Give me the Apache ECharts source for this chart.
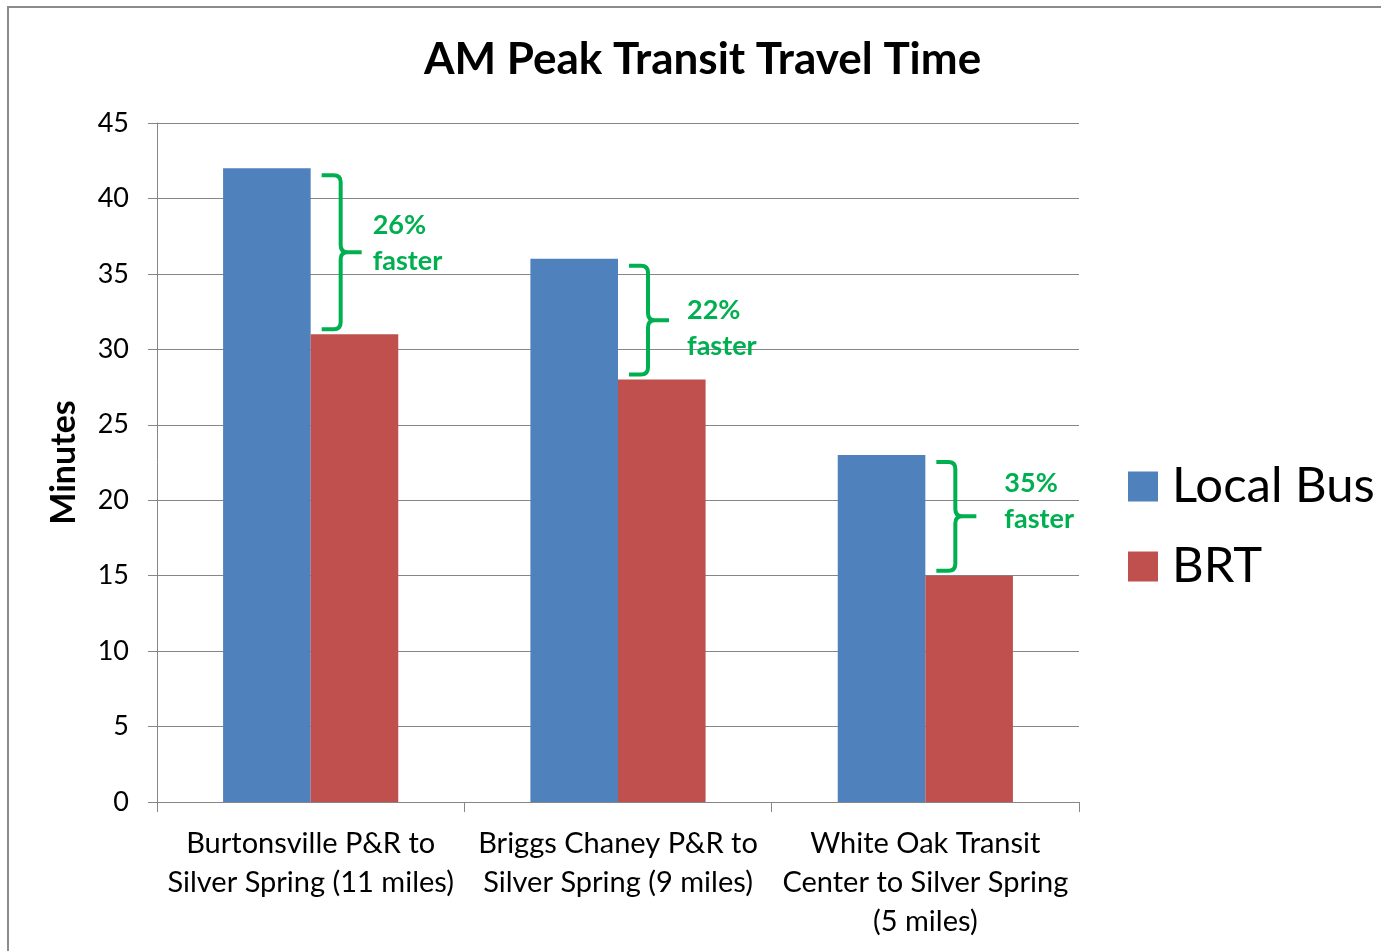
<!DOCTYPE html>
<html>
<head>
<meta charset="utf-8">
<script src="https://cdn.jsdelivr.net/npm/echarts@6/dist/echarts.min.js"></script>
<style>
html,body{margin:0;padding:0;background:#fff;}
#chart{width:1381px;height:951px;}
</style>
</head>
<body>
<div id="chart"></div>
<script>
const categories = [
  'Burtonsville P&R to\nSilver Spring (11 miles)',
  'Briggs Chaney P&R to\nSilver Spring (9 miles)',
  'White Oak Transit\nCenter to Silver Spring\n(5 miles)'
];
const localBus = [42, 36, 23];
const brt = [31, 28, 15];
const fasterLabels = ['26%', '22%', '35%'];
const yTicks = [0, 5, 10, 15, 20, 25, 30, 35, 40, 45];

// annotation label nudges (style only)
const labelNudge = [[0, -3], [7, 14], [17, -9]];

const FONT = 'Lato, "Open Sans", sans-serif';
const GREEN = '#00B050';
const AXIS = '#868686';

const braceData = categories.map((c, i) => [i, localBus[i], brt[i], fasterLabels[i]]);

const chart = echarts.init(document.getElementById('chart'), null, {renderer: 'canvas'});
chart.setOption({
  animation: false,
  backgroundColor: '#fff',
  textStyle: {fontFamily: FONT},
  title: {
    text: 'AM Peak Transit Travel Time',
    left: 419, top: 33,
    textStyle: {fontFamily: FONT, fontWeight: 'bold', fontSize: 44, color: '#000'}
  },
  graphic: [{
    type: 'rect', silent: true, z: -1,
    shape: {x: 8, y: 7, width: 1420, height: 1000},
    style: {fill: 'none', stroke: '#8c8c8c', lineWidth: 2}
  }],
  legend: {
    data: ['Local Bus', 'BRT'],
    orient: 'vertical',
    left: 1123, top: 457,
    itemWidth: 30, itemHeight: 30, itemGap: 31,
    icon: 'rect',
    textStyle: {fontFamily: FONT, fontSize: 49, color: '#000', padding: [0, 0, 0, 9]}
  },
  grid: {left: 157, right: 302, top: 123, bottom: 149, containLabel: false},
  xAxis: {
    type: 'category',
    data: categories,
    axisLine: {lineStyle: {color: AXIS, width: 1}},
    axisTick: {show: true, length: 10, lineStyle: {color: AXIS}},
    axisLabel: {fontFamily: FONT, fontSize: 29, color: '#000', lineHeight: 39, margin: 22, interval: 0}
  },
  yAxis: {
    type: 'value',
    min: yTicks[0], max: yTicks[yTicks.length - 1], interval: yTicks[1] - yTicks[0],
    name: 'Minutes',
    nameLocation: 'middle',
    nameGap: 76,
    nameRotate: 90,
    nameTextStyle: {fontFamily: FONT, fontWeight: 'bold', fontSize: 34, color: '#000'},
    axisLine: {show: true, lineStyle: {color: AXIS, width: 1}},
    axisTick: {show: true, length: 9, lineStyle: {color: AXIS}},
    axisLabel: {fontFamily: FONT, fontSize: 27, color: '#000', margin: 28},
    splitLine: {lineStyle: {color: AXIS, width: 1}}
  },
  series: [
    {
      name: 'Local Bus', type: 'bar', data: localBus,
      itemStyle: {color: '#4F81BD'},
      barGap: '0%', barCategoryGap: '43%'
    },
    {
      name: 'BRT', type: 'bar', data: brt,
      itemStyle: {color: '#C0504D'},
      barGap: '0%', barCategoryGap: '43%'
    },
    {
      name: 'braces', type: 'custom', data: braceData, z: 10,
      silent: true,
      renderItem: function (params, api) {
        const top = api.coord([api.value(0), api.value(1)]);
        const bottom = api.coord([api.value(0), api.value(2)]);
        const cx = top[0];
        const yt = top[1] + 7;
        const yb = bottom[1] - 5;
        const ym = (yt + yb) / 2;
        const x0 = cx + 11;
        const xv = cx + 30;
        const xt = cx + 51;
        const r = 7;
        const p = `M${x0},${yt} L${xv - r},${yt} Q${xv},${yt} ${xv},${yt + r} ` +
          `L${xv},${ym - r} Q${xv},${ym} ${xv + r},${ym} L${xt},${ym} ` +
          `M${xv + r},${ym} Q${xv},${ym} ${xv},${ym + r} L${xv},${yb - r} ` +
          `Q${xv},${yb} ${xv - r},${yb} L${x0},${yb}`;
        const i = params.dataIndex;
        const txt = fasterLabels[i];
        return {
          type: 'group',
          children: [
            {type: 'path', shape: {pathData: p},
              style: {fill: 'none', stroke: GREEN, lineWidth: 4, lineCap: 'butt', lineJoin: 'round'}},
            {type: 'text',
              style: {text: txt + '\nfaster', x: xt + 11 + labelNudge[i][0], y: ym - 6 + labelNudge[i][1],
                verticalAlign: 'middle', align: 'left',
                fill: GREEN, font: 'bold 27px ' + FONT, lineHeight: 36}}
          ]
        };
      }
    }
  ]
});
</script>
</body>
</html>
